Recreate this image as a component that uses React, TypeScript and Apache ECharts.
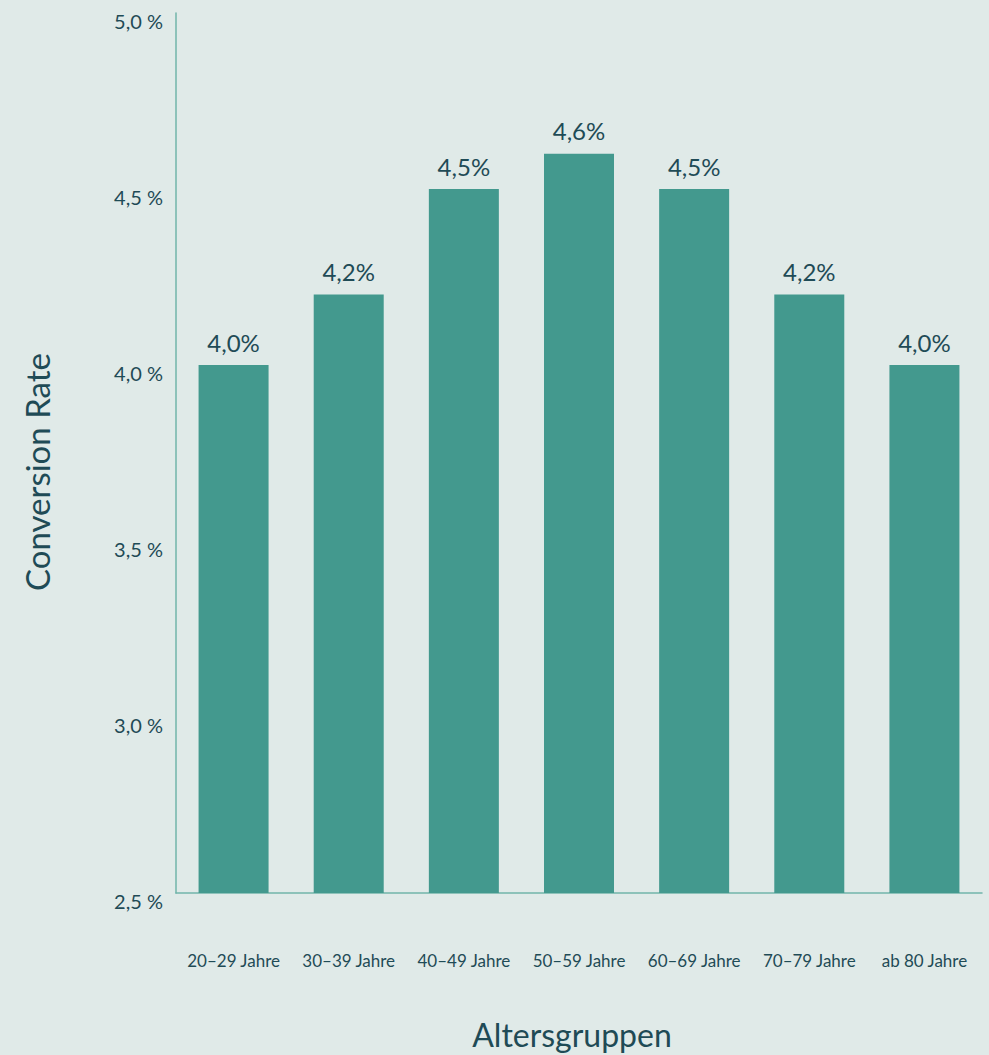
import React, { useEffect, useRef } from "react";
import * as echarts from "echarts";

const categories = ["20–29 Jahre", "30–39 Jahre", "40–49 Jahre", "50–59 Jahre", "60–69 Jahre", "70–79 Jahre", "ab 80 Jahre"];
const conversionRates = [4.0, 4.2, 4.5, 4.6, 4.5, 4.2, 4.0];
const yMin = 2.5;
const yMax = 5.0;
const yStep = 0.5;
const yAxisTitle = "Conversion Rate";
const xAxisTitle = "Altersgruppen";

const fmt = (v: number) => v.toFixed(1).replace(".", ",");

export default function App() {
  const ref = useRef<HTMLDivElement>(null);
  useEffect(() => {
    document.body.style.margin = "0";
    const chart = echarts.init(ref.current!, undefined, { renderer: "svg" });
    const textColor = "#1f4b56";
    const font = "Lato, 'Noto Sans', sans-serif";
    chart.setOption({
      animation: false,
      backgroundColor: "#e0eae8",
      grid: { left: 176, right: 7, top: 13, bottom: 162 },
      xAxis: {
        type: "category",
        data: categories,
        axisLine: { lineStyle: { color: "#72b5aa", width: 1.5 } },
        axisTick: { show: false },
        axisLabel: { color: textColor, fontSize: 17, fontFamily: font, margin: 59, interval: 0, hideOverlap: false },
      },
      yAxis: {
        type: "value",
        min: yMin,
        max: yMax,
        interval: yStep,
        splitLine: { show: false },
        axisLine: { show: true, lineStyle: { color: "#72b5aa", width: 1.5 } },
        axisTick: { show: false },
        axisLabel: {
          color: textColor,
          fontSize: 20,
          fontFamily: font,
          margin: 13,
          verticalAlign: "top",
          lineHeight: 15,
          formatter: (v: number) => fmt(v) + " %",
        },
      },
      series: [
        {
          type: "bar",
          data: conversionRates,
          barWidth: 70,
          itemStyle: { color: "#43998e" },
          label: {
            show: true,
            position: "top",
            distance: 11,
            color: textColor,
            fontSize: 24,
            fontFamily: font,
            formatter: (p: any) => fmt(p.value) + "%",
          },
        },
      ],
      graphic: [
        {
          type: "text",
          x: 37,
          y: 472,
          rotation: Math.PI / 2,
          style: {
            text: yAxisTitle,
            fill: textColor,
            fontSize: 33,
            fontFamily: font,
            textAlign: "center",
            textVerticalAlign: "middle",
          },
        },
        {
          type: "text",
          x: 572,
          y: 1034,
          style: {
            text: xAxisTitle,
            fill: textColor,
            fontSize: 32,
            fontFamily: font,
            textAlign: "center",
            textVerticalAlign: "middle",
          },
        },
      ],
    });
    return () => chart.dispose();
  }, []);
  return <div ref={ref} style={{ width: 989, height: 1055 }} />;
}
